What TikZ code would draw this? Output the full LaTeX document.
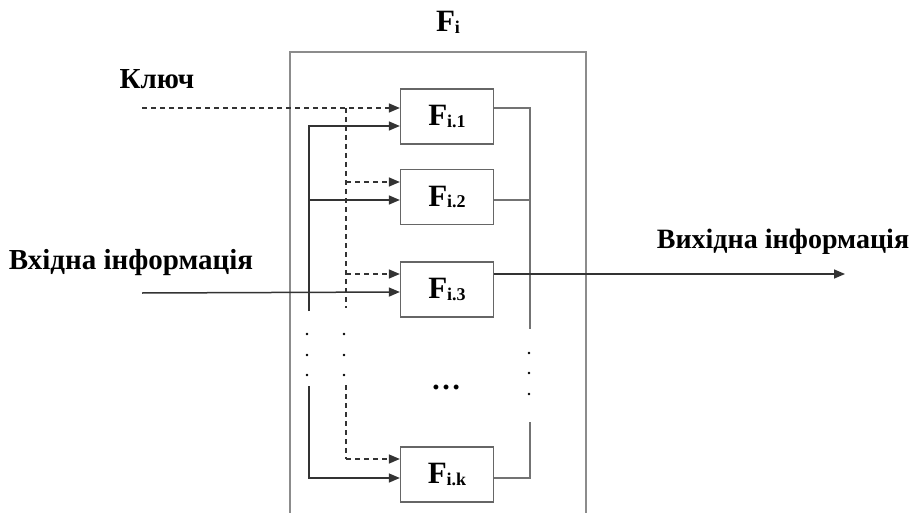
\documentclass[tikz,border=0pt]{standalone}
\usepackage{fontspec}
\setmainfont{Liberation Serif}
\usepackage{tikz}
\usetikzlibrary{arrows.meta}

\newcommand{\fsub}[1]{\textbf{\fontsize{31}{31}\selectfont F\raisebox{-1.5pt}{\fontsize{18}{18}\selectfont #1}}}

\begin{document}
\begin{tikzpicture}[x=1pt,y=-1pt,
  box/.style={draw=black!60,line width=1.3pt,fill=white,minimum width=93pt,minimum height=55pt,inner sep=0pt},
  frame/.style={draw=black!45,line width=1.4pt},
  wire/.style={draw=black!80,line width=1.5pt},
  keyline/.style={wire,dashed,dash pattern=on 5pt off 4pt},
  tip/.style={-{Triangle[length=11pt,width=9pt]}},
  lbl/.style={font=\bfseries\fontsize{29}{29}\selectfont,inner sep=0pt}]
  \useasboundingbox (0,0) rectangle (917,513);

  % frame of F_i
  \draw[frame] (290,513) |- (586,52) -- (586,513);
  \node[inner sep=0pt] (title) at (448,22) {\textbf{\fontsize{31}{31}\selectfont F\raisebox{-2pt}{\fontsize{18}{18}\selectfont i}}};

  \node[box] (f1) at (447,116.5) {\fsub{i.1}};
  \node[box] (f2) at (447,197) {\fsub{i.2}};
  \node[box] (f3) at (447,289.5) {\fsub{i.3}};
  \node[box] (fk) at (447,474.5) {\fsub{i.k}};
  \node[inner sep=0pt] (gap) at (446,387) {\bfseries\fontsize{30}{30}\selectfont\dots};

  \node[lbl] (key) at (157,79) {Ключ};
  \node[lbl] (inp) at (131,263) {Вхідна інформація};
  \node[lbl,font=\bfseries\fontsize{28}{28}\selectfont] (outp) at (783,242) {Вихідна інформація};

  \coordinate (kin) at (142,108);
  \coordinate (din) at (142,293);
  \coordinate (dout) at (845,274);

  % key
  \draw[keyline,tip] (kin) -- ([yshift=8.5pt]f1.west);
  \draw[keyline] (346,108) -- (346,308);
  \draw[keyline] (346,385) -- (346,459);
  \draw[keyline,tip] (346,182) -- ([yshift=15pt]f2.west);
  \draw[keyline,tip] (346,274) -- ([yshift=15.5pt]f3.west);
  \draw[keyline,tip] (346,459) -- ([yshift=15.5pt]fk.west);

  % input data
  \draw[wire,tip] (din) -- ([yshift=-2.5pt]f3.west);
  \draw[wire,tip] (309,311) -- (309,126) -- ([yshift=-9.5pt]f1.west);
  \draw[wire,tip] (309,200) -- ([yshift=-3pt]f2.west);
  \draw[wire,tip] (309,386) -- (309,478) -- ([yshift=-3.5pt]fk.west);

  % outputs
  \draw[wire,draw=black!55] ([yshift=8.5pt]f1.east) -| (530,329);
  \draw[wire,draw=black!55] ([yshift=-3pt]f2.east) -- (530,200);
  \draw[wire,draw=black!55] ([yshift=-3.5pt]fk.east) -| (530,422);
  \draw[wire,tip] ([yshift=15.5pt]f3.east) -- (dout);

  % dots
  \foreach \y in {334,355,375} {
    \fill (307,\y) circle (1.4pt);
    \fill (344,\y) circle (1.4pt);
  }
  \foreach \y in {353,373,394} \fill (529,\y) circle (1.4pt);
\end{tikzpicture}
\end{document}
